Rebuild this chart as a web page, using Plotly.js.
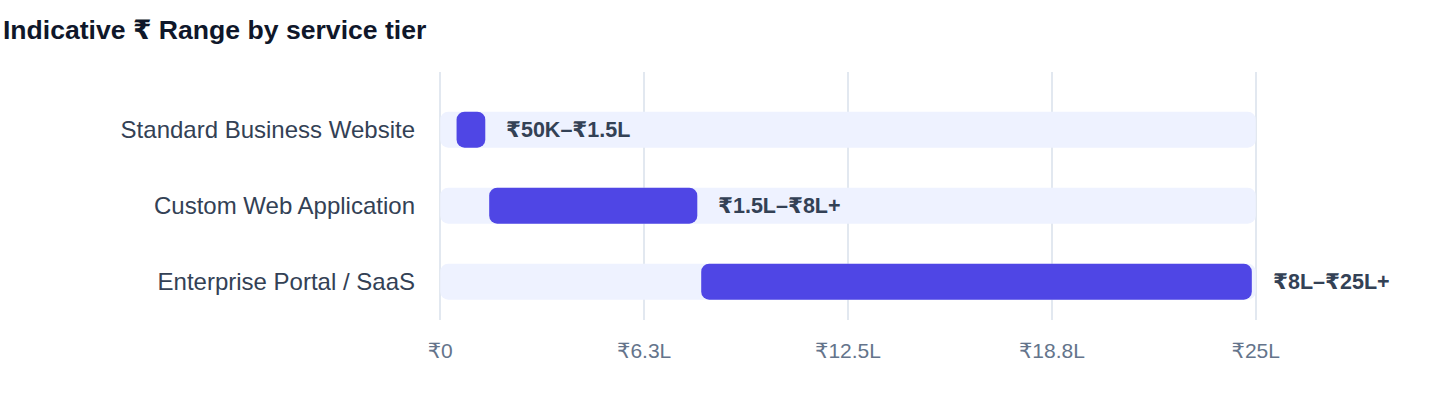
<!DOCTYPE html>
<html>
<head>
<meta charset="utf-8">
<script src="https://cdn.plot.ly/plotly-3.0.1.min.js"></script>
<style>
  html, body { margin: 0; padding: 0; background: #fff; }
  #chart { width: 1440px; height: 408px; }
</style>
</head>
<body>
<div id="chart"></div>
<script>
// service tiers, top to bottom
var tiers = ['Standard Business Website', 'Custom Web Application', 'Enterprise Portal / SaaS'];
// range in lakhs
var rangeStart = [0.5, 1.5, 8];
var rangeEnd = [1.38, 7.88, 24.88];
var rangeLabels = ['₹50K–₹1.5L', '₹1.5L–₹8L+', '₹8L–₹25L+'];
var trackMax = [25, 25, 25];

var tickVals = [0, 6.25, 12.5, 18.75, 25];
var tickText = ['₹0', '₹6.3L', '₹12.5L', '₹18.8L', '₹25L'];

var font = '"Liberation Sans", Arial, "DejaVu Sans", sans-serif';

var data = [
  {
    // light track behind each range
    type: 'bar',
    orientation: 'h',
    y: tiers,
    x: trackMax,
    base: 0,
    width: 0.474,
    marker: {color: '#EEF2FF'},
    hoverinfo: 'skip'
  },
  {
    // the actual range
    type: 'bar',
    orientation: 'h',
    y: tiers,
    x: rangeEnd.map(function (e, i) { return e - rangeStart[i]; }),
    base: rangeStart,
    width: 0.474,
    marker: {color: '#4F46E5'}
  }
];

var annotations = tiers.map(function (t, i) {
  return {
    x: rangeEnd[i],
    y: t,
    xref: 'x',
    yref: 'y',
    text: '<b>' + rangeLabels[i] + '</b>',
    showarrow: false,
    xanchor: 'left',
    yanchor: 'middle',
    xshift: 19,
    font: {family: font, size: 21.5, color: '#334155'}
  };
});

var layout = {
  width: 1440,
  height: 408,
  showlegend: false,
  barmode: 'overlay',
  barcornerradius: 8,
  paper_bgcolor: '#fff',
  plot_bgcolor: '#fff',
  margin: {l: 437, r: 181, t: 72, b: 88, pad: 0},
  title: {
    text: '<b>Indicative ₹ Range by service tier</b>',
    xref: 'container',
    yref: 'container',
    x: 0.002,
    xanchor: 'left',
    y: 1 - 30 / 408,
    yanchor: 'middle',
    font: {family: font, size: 26.6, color: '#0F172A'}
  },
  xaxis: {
    range: [-0.1, 25.1],              // a bit wider so edge gridlines are drawn
    tickvals: tickVals,
    ticktext: tickText,
    showgrid: true,
    gridcolor: '#E2E8F0',
    gridwidth: 2,
    zeroline: false,
    showline: false,
    ticks: '',
    ticklabelstandoff: 16,
    tickfont: {family: font, size: 21, color: '#64748B'}
  },
  yaxis: {
    type: 'category',
    range: [2.504, -0.759],           // reversed: first tier on top
    showgrid: false,
    zeroline: false,
    ticks: '',
    ticklabelstandoff: 21,
    tickfont: {family: font, size: 24, color: '#334155'}
  },
  annotations: annotations
};

Plotly.newPlot('chart', data, layout, {staticPlot: true});
</script>
</body>
</html>
